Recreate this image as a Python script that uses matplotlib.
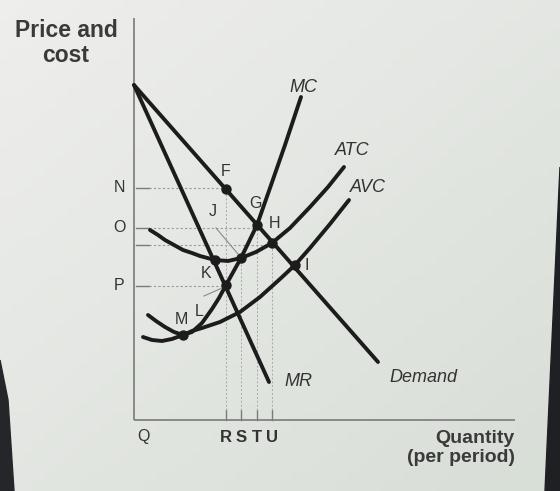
import matplotlib
matplotlib.use("Agg")
import matplotlib.pyplot as plt
import numpy as np
from matplotlib.patches import Polygon

# ---- data (chart units: quantity to the right, price upward) ----
demand_q = [0, 244]
demand_p = [335, 58]

mr_q = [0, 135]
mr_p = [335, 38]

mc_q = [14, 22, 31, 40, 49, 58, 68, 78, 85, 92, 107, 123, 136, 151, 162, 167]
mc_p = [105, 99, 93, 88, 85, 88, 97, 111, 122, 135, 162, 195, 232, 275, 308, 323]

atc_q = [16, 24, 31, 40, 49, 58, 66, 81, 94, 107, 122, 138, 156, 176, 194, 210]
atc_p = [190, 185, 180, 175, 170, 167, 164, 160, 159, 162, 168, 177, 192, 213, 233, 253]

avc_q = [9, 18, 28, 38, 49, 58, 68, 86, 106, 126, 146, 161, 176, 196, 215]
avc_p = [83, 80, 79, 81, 85, 89, 92, 98, 108, 123, 141, 155, 172, 196, 220]

point_names = ["F", "G", "H", "I", "J", "K", "L", "M"]
point_q = [92, 123, 138, 161, 107, 81, 92, 49]
point_p = [231, 195, 177, 155, 162, 160, 135, 85]

price_ticks = [232, 192, 175, 134]
price_labels = ["N", "O", "", "P"]
price_guide_end = [92, 123, 138, 92]

qty_ticks = [92, 107, 123, 138]
qty_labels = ["R", "S", "T", "U"]
qty_guide_top = [231, 162, 195, 177]

# ---- figure ----
W, H = 560, 491
OX, OY = 134, 420  # pixel position of origin
fig = plt.figure(figsize=(W / 100, H / 100), dpi=100)

# background (photo-like gradient)
bg = fig.add_axes([0, 0, 1, 1])
bg.set_axis_off()
yy, xx = np.mgrid[0:1:50j, 0:1:50j]
c0 = np.array([0.935, 0.935, 0.93])
c1 = np.array([0.85, 0.875, 0.845])
t = np.clip(0.5 * xx + 0.55 * yy, 0, 1)[..., None]
img = c0 * (1 - t) + c1 * t
bg.imshow(img, extent=[0, 1, 0, 1], aspect="auto", origin="upper")
bg.set_xlim(0, 1)
bg.set_ylim(0, 1)
# dark photo edges
bg.add_patch(Polygon([(1, 1 - 167 / H), (545 / W, 0), (1, 0)], closed=True,
                     color="#1e2024", zorder=3))
bg.add_patch(Polygon([(0, 1 - 360 / H), (8 / W, 1 - 400 / H), (14 / W, 0), (0, 0)],
                     closed=True, color="#24262a", zorder=3))

ax = fig.add_axes([0, 0, 1, 1])
ax.set_xlim(-OX, W - OX)
ax.set_ylim(OY - H, OY)
ax.set_axis_off()
ax.patch.set_alpha(0)

ink = "#1c1c1c"
grey = "#7a7a7a"
txt = "#333333"
lw = 2.8

# axes lines
ax.plot([0, 0], [0, 402], color=grey, lw=1.2, solid_capstyle="butt")
ax.plot([0, 381], [0, 0], color=grey, lw=1.2, solid_capstyle="butt")

# guide lines
for p, e in zip(price_ticks, price_guide_end):
    ax.plot([2, 15], [p, p], color=grey, lw=1.0)
    ax.plot([15, e], [p, p], color="#9a9a9a", lw=0.8, ls=(0, (2, 2)))
for q, top in zip(qty_ticks, qty_guide_top):
    ax.plot([q, q], [0, 10], color=grey, lw=1.0)
    ax.plot([q, q], [10, top], color="#a8a8a8", lw=0.7, ls=(0, (2, 2)))

# curves
kw = dict(color=ink, lw=lw, solid_capstyle="round", solid_joinstyle="round")
ax.plot(demand_q, demand_p, **kw)
ax.plot(mr_q, mr_p, **kw)
ax.plot(mc_q, mc_p, **kw)
ax.plot(atc_q, atc_p, **kw)
ax.plot(avc_q, avc_p, **kw)

# points
ax.scatter(point_q, point_p, s=42, color=ink, zorder=5)

# point labels
lab_off = {"F": (0, 17), "G": (-1, 22), "H": (2, 19), "I": (12, 0), "J": (-28, 46),
           "K": (-9, -13), "L": (-27, -27), "M": (-2, 16)}
for n, q, p in zip(point_names, point_q, point_p):
    dx, dy = lab_off[n]
    ax.text(q + dx, p + dy, n, ha="center", va="center", fontsize=11.5,
            color=txt, family="Liberation Sans")
# leader lines
ax.plot([82, 104], [192, 166], color="#8a8a8a", lw=0.8)
ax.plot([70, 88], [124, 132], color="#8a8a8a", lw=0.8)

# tick labels
for p, lbl in zip(price_ticks, price_labels):
    if lbl:
        ax.text(-15, p, lbl, ha="center", va="center", fontsize=11.5, color=txt,
                family="Liberation Sans")
ax.text(9, -17, "Q", ha="center", va="center", fontsize=11.5, color=txt,
        family="Liberation Sans")
for q, lbl in zip(qty_ticks, qty_labels):
    ax.text(q, -17, lbl, ha="center", va="center", fontsize=12, color=txt,
            family="Liberation Sans", fontweight="bold")

# curve labels
ckw = dict(fontsize=13, color=txt, family="Liberation Sans", style="italic",
           ha="center", va="center")
ax.text(169, 333, "MC", **ckw)
ax.text(218, 270, "ATC", **ckw)
ax.text(234, 232, "AVC", **ckw)
ax.text(164, 39, "MR", **ckw)
ax.text(289, 42, "Demand", **ckw)

# axis titles
ax.text(-68, 377, "Price and\ncost", ha="center", va="center", fontsize=16.5,
        fontweight="bold", color="#3a3a3a", family="Liberation Sans",
        linespacing=1.1)
ax.text(381, -28, "Quantity\n(per period)", ha="right", va="center",
        multialignment="right", fontsize=14, fontweight="bold", color="#3a3a3a",
        family="Liberation Sans", linespacing=1.15)

fig.savefig("out.png", dpi=100)
